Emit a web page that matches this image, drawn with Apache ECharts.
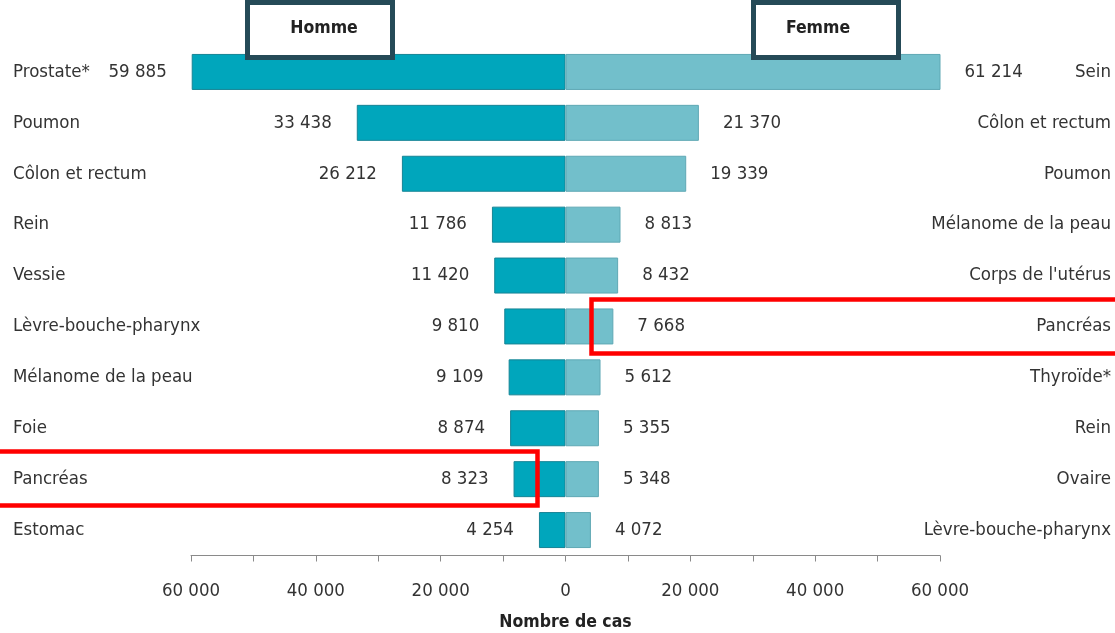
<!DOCTYPE html>
<html>
<head>
<meta charset="utf-8">
<script src="https://cdn.jsdelivr.net/npm/echarts@6/dist/echarts.min.js"></script>
<style>
  html, body { margin: 0; padding: 0; background: #fff; }
  #chart { width: 1115px; height: 633px; }
</style>
</head>
<body>
<div id="chart"></div>
<script>
// Nombre de nouveaux cas par localisation, hommes (gauche) et femmes (droite)
const hommeLocalisations = ['Prostate*', 'Poumon', 'Côlon et rectum', 'Rein', 'Vessie',
  'Lèvre-bouche-pharynx', 'Mélanome de la peau', 'Foie', 'Pancréas', 'Estomac'];
const hommeCas = [59885, 33438, 26212, 11786, 11420, 9810, 9109, 8874, 8323, 4254];

const femmeLocalisations = ['Sein', 'Côlon et rectum', 'Poumon', 'Mélanome de la peau',
  "Corps de l'utérus", 'Pancréas', 'Thyroïde*', 'Rein', 'Ovaire', 'Lèvre-bouche-pharynx'];
const femmeCas = [61214, 21370, 19339, 8813, 8432, 7668, 5612, 5355, 5348, 4072];

const axeMin = -60000;
const axeMax = 60000;
const axePas = 10000;
const axeEtiquettePas = 20000;

const FONT = '"Liberation Sans Narrow", "Arial Narrow", "DejaVu Sans Condensed", sans-serif';
const TAILLE = 18.5;

function espaceMilliers(n) {
  return String(Math.round(Math.abs(n))).replace(/\B(?=(\d{3})+(?!\d))/g, ' ');
}

const chart = echarts.init(document.getElementById('chart'), null, { renderer: 'canvas' });

const option = {
  backgroundColor: '#ffffff',
  animation: false,
  textStyle: { fontFamily: FONT },
  grid: { left: 191, right: 175, top: 46.5, bottom: 77.5, containLabel: false, outerBoundsMode: 'none' },
  xAxis: {
    type: 'value',
    min: axeMin,
    max: axeMax,
    interval: axePas,
    name: 'Nombre de cas',
    nameLocation: 'middle',
    nameGap: 58,
    nameTextStyle: { fontFamily: FONT, fontSize: 17.5, fontWeight: 'bold', color: '#222' },
    axisLine: { show: true, lineStyle: { color: '#8a8a8a', width: 1 } },
    axisTick: { show: true, inside: false, length: 6, lineStyle: { color: '#8a8a8a' } },
    splitLine: { show: false },
    axisLabel: {
      margin: 26,
      fontFamily: FONT,
      fontSize: TAILLE,
      color: '#333',
      formatter: v => (v % axeEtiquettePas === 0 ? espaceMilliers(v) : '')
    }
  },
  yAxis: [
    {
      type: 'category',
      position: 'left',
      inverse: true,
      data: hommeLocalisations,
      axisLine: { show: false },
      axisTick: { show: false },
      axisLabel: { align: 'left', margin: 178, fontFamily: FONT, fontSize: TAILLE, color: '#333' }
    },
    {
      type: 'category',
      position: 'right',
      inverse: true,
      data: femmeLocalisations,
      axisLine: { show: false },
      axisTick: { show: false },
      axisLabel: { align: 'right', margin: 171, fontFamily: FONT, fontSize: TAILLE, color: '#333' }
    }
  ],
  series: [
    {
      name: 'Homme',
      type: 'bar',
      yAxisIndex: 0,
      barWidth: 36,
      data: hommeCas.map(v => -v),
      itemStyle: { color: '#00a6bc', borderColor: '#168495', borderWidth: 1 },
      label: {
        show: true,
        position: 'left',
        distance: 25,
        fontFamily: FONT,
        fontSize: TAILLE,
        color: '#333',
        formatter: p => espaceMilliers(p.value)
      }
    },
    {
      name: 'Femme',
      type: 'bar',
      yAxisIndex: 1,
      barWidth: 36,
      data: femmeCas,
      itemStyle: { color: '#72bfcb', borderColor: '#5fa8b4', borderWidth: 1 },
      label: {
        show: true,
        position: 'right',
        distance: 24,
        fontFamily: FONT,
        fontSize: TAILLE,
        color: '#333',
        formatter: p => espaceMilliers(p.value)
      }
    }
  ],
  graphic: [
    // cartouches de sexe
    {
      type: 'rect',
      shape: { x: 247.5, y: 2.5, width: 145, height: 55 },
      style: { fill: '#ffffff', stroke: '#254a57', lineWidth: 5 },
      z: 100
    },
    {
      type: 'text',
      x: 324, y: 28,
      style: { text: 'Homme', fontFamily: FONT, fontSize: 17.5, fontWeight: 'bold', fill: '#222',
               align: 'center', verticalAlign: 'middle' },
      z: 101
    },
    {
      type: 'rect',
      shape: { x: 753.5, y: 2.5, width: 145, height: 55 },
      style: { fill: '#ffffff', stroke: '#254a57', lineWidth: 5 },
      z: 100
    },
    {
      type: 'text',
      x: 818, y: 28,
      style: { text: 'Femme', fontFamily: FONT, fontSize: 17.5, fontWeight: 'bold', fill: '#222',
               align: 'center', verticalAlign: 'middle' },
      z: 101
    },
    // encadrés rouges du pancréas
    {
      type: 'rect',
      shape: { x: 591.5, y: 299.5, width: 540, height: 54 },
      style: { fill: 'none', stroke: '#ff0000', lineWidth: 4.5 },
      z: 102
    },
    {
      type: 'rect',
      shape: { x: -10, y: 451.5, width: 547.5, height: 54 },
      style: { fill: 'none', stroke: '#ff0000', lineWidth: 4.5 },
      z: 102
    }
  ]
};

chart.setOption(option);
</script>
</body>
</html>
